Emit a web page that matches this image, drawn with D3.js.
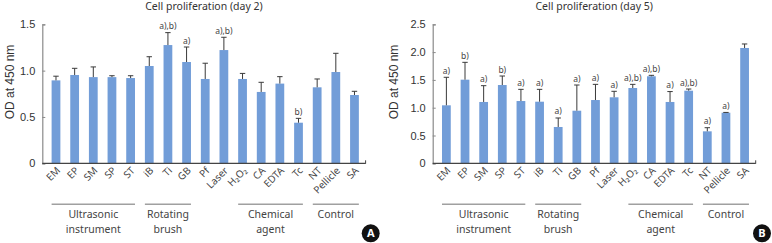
<!DOCTYPE html>
<html>
<head>
<meta charset="utf-8">
<script src="https://cdn.jsdelivr.net/npm/d3@7"></script>
<style>
    body { margin: 0; background: #fff; }
    svg { display: block; }
</style>
</head>
<body>
<div id="chart"></div>
<script>
// data
const categories = ['EM', 'EP', 'SM', 'SP', 'ST', 'iB', 'Ti', 'GB', 'Pf', 'Laser', 'H₂O₂', 'CA', 'EDTA', 'Tc', 'NT', 'Pellicle', 'SA'];

const day2Values = [0.895, 0.953, 0.93, 0.93, 0.92, 1.05, 1.276, 1.093, 0.91, 1.222, 0.91, 0.77, 0.86, 0.438, 0.82, 0.985, 0.737];
const day2Errors = [0.94, 1.025, 1.04, 0.945, 0.945, 1.15, 1.41, 1.255, 1.08, 1.36, 0.97, 0.874, 0.935, 0.485, 0.91, 1.187, 0.777];
const day2Marks = ['', '', '', '', '', '', 'a),b)', 'a)', '', 'a),b)', '', '', '', 'b)', '', '', ''];
const day2Ticks = [0, 0.5, 1.0, 1.5];

const day5Values = [1.043, 1.504, 1.103, 1.408, 1.12, 1.108, 0.653, 0.946, 1.138, 1.187, 1.354, 1.565, 1.103, 1.306, 0.575, 0.91, 2.074];
const day5Errors = [1.547, 1.816, 1.396, 1.57, 1.33, 1.33, 0.815, 1.408, 1.42, 1.295, 1.42, 1.582, 1.29, 1.336, 0.64, 0.915, 2.146];
const day5Marks = ['a)', 'b)', 'a)', 'b)', 'a)', 'a)', 'a)', 'a)', 'a)', 'a)', 'a),b)', 'a),b)', 'a)', 'a),b)', 'a)', 'a)', ''];
const day5Ticks = [0, 0.5, 1.0, 1.5, 2.0, 2.5];

const groupNames = [['Ultrasonic', 'instrument'], ['Rotating', 'brush'], ['Chemical', 'agent'], ['Control']];
const groupFirst = ['EM', 'iB', 'H₂O₂', 'NT'];
const groupLast = ['ST', 'GB', 'Tc', 'SA'];

// layout
const W = 772, H = 243;
const barColor = '#729dd8';
const plotTop = 24.3, plotBottom = 163.3;
const sans = "'Noto Sans', 'Open Sans', sans-serif";

const svg = d3.select('#chart')
    .append('svg')
    .attr('width', W)
    .attr('height', H);

function fmt(d) {
    return d === 0 ? '0' : d3.format('.1f')(d);
}

function DrawPanel(p) {
    const g = svg.append('g');

    // x scale
    const x = d3.scaleBand()
        .domain(categories)
        .range([p.left, p.right])
        .paddingInner(0.53)
        .paddingOuter(0.43)
        .align(0.58);

    // y scale
    const y = d3.scaleLinear()
        .domain([0, p.yMax])
        .range([plotBottom, plotTop]);

    // title
    g.append('text')
        .attr('x', (p.left + p.right) / 2)
        .attr('y', 10)
        .attr('text-anchor', 'middle')
        .style('font-family', sans)
        .style('font-size', '10.5px')
        .style('fill', '#333')
        .text(p.title);

    // y axis
    const yAxis = g.append('g')
        .attr('transform', 'translate(' + p.left + ',0)')
        .call(d3.axisLeft(y).tickValues(p.ticks).tickFormat(fmt).tickSize(-3).tickPadding(7));
    yAxis.select('.domain').attr('stroke', '#8a8a8a').attr('stroke-width', 1.2);
    yAxis.selectAll('.tick line').attr('stroke', '#8a8a8a');
    yAxis.selectAll('.tick text')
        .style('font-family', 'Liberation Sans')
        .style('font-size', '11px')
        .style('fill', '#333');

    // y axis title
    g.append('text')
        .attr('transform', 'translate(' + (p.left - p.titleOffset) + ',82) rotate(-90)')
        .attr('text-anchor', 'middle')
        .attr('dominant-baseline', 'middle')
        .style('font-family', 'Liberation Sans')
        .style('font-size', '12px')
        .style('fill', '#333')
        .text('OD at 450 nm');

    // bars
    g.selectAll('rect.bar')
        .data(p.values)
        .join('rect')
        .attr('class', 'bar')
        .attr('x', (d, i) => x(categories[i]))
        .attr('y', d => y(d))
        .attr('width', x.bandwidth())
        .attr('height', d => y(0) - y(d))
        .style('fill', barColor);

    // error bars
    const cx = i => x(categories[i]) + x.bandwidth() / 2;
    g.selectAll('line.stem')
        .data(p.errors)
        .join('line')
        .attr('class', 'stem')
        .attr('x1', (d, i) => cx(i))
        .attr('x2', (d, i) => cx(i))
        .attr('y1', (d, i) => y(p.values[i]))
        .attr('y2', d => y(d))
        .attr('stroke', '#3a3a3a')
        .attr('stroke-width', 1);
    g.selectAll('line.cap')
        .data(p.errors)
        .join('line')
        .attr('class', 'cap')
        .attr('x1', (d, i) => cx(i) - 2.7)
        .attr('x2', (d, i) => cx(i) + 2.7)
        .attr('y1', d => y(d))
        .attr('y2', d => y(d))
        .attr('stroke', '#3a3a3a')
        .attr('stroke-width', 1);

    // significance marks
    g.selectAll('text.mark')
        .data(p.marks)
        .join('text')
        .attr('class', 'mark')
        .attr('x', (d, i) => cx(i))
        .attr('y', (d, i) => y(p.errors[i]) - 3.5)
        .attr('text-anchor', 'middle')
        .style('font-family', sans)
        .style('font-size', '8.5px')
        .style('fill', '#444')
        .text(d => d);

    // x axis line
    g.append('line')
        .attr('x1', p.left)
        .attr('x2', p.right)
        .attr('y1', plotBottom)
        .attr('y2', plotBottom)
        .attr('stroke', '#444')
        .attr('stroke-width', 1.2);
    g.append('line')
        .attr('x1', p.right)
        .attr('x2', p.right)
        .attr('y1', plotBottom - 3)
        .attr('y2', plotBottom + 0.5)
        .attr('stroke', '#444');

    // x tick labels, rotated
    g.selectAll('text.xlab')
        .data(categories)
        .join('text')
        .attr('class', 'xlab')
        .attr('transform', d => 'translate(' + (x(d) + x.bandwidth() / 2 + 3) + ',' + (plotBottom + 6) + ') rotate(-45)')
        .attr('text-anchor', 'end')
        .attr('dominant-baseline', 'middle')
        .style('font-family', sans)
        .style('font-size', '10px')
        .style('fill', '#444')
        .text(d => d);

    // group lines and labels
    groupNames.forEach((name, i) => {
        const x1 = x(groupFirst[i]);
        const x2 = x(groupLast[i]) + x.bandwidth();
        g.append('line')
            .attr('x1', x1)
            .attr('x2', x2)
            .attr('y1', 204.3)
            .attr('y2', 204.3)
            .attr('stroke', '#a0a0a0')
            .attr('stroke-width', 1.6);
        name.forEach((line, j) => {
            g.append('text')
                .attr('x', (x1 + x2) / 2)
                .attr('y', 218 + j * 15)
                .attr('text-anchor', 'middle')
                .style('font-family', sans)
                .style('font-size', '10.5px')
                .style('fill', '#444')
                .text(line);
        });
    });

    // panel badge
    g.append('circle')
        .attr('cx', p.badgeX)
        .attr('cy', 233.3)
        .attr('r', 9)
        .style('fill', '#111');
    g.append('text')
        .attr('x', p.badgeX)
        .attr('y', 233.8)
        .attr('text-anchor', 'middle')
        .attr('dominant-baseline', 'middle')
        .style('font-family', sans)
        .style('font-weight', 'bold')
        .style('font-size', '11px')
        .style('fill', '#fff')
        .text(p.badge);
}

DrawPanel({
    title: 'Cell proliferation (day 2)',
    values: day2Values, errors: day2Errors, marks: day2Marks, ticks: day2Ticks,
    yMax: 1.5, left: 42.3, right: 365.6, titleOffset: 31, badge: 'A', badgeX: 370.7
});

DrawPanel({
    title: 'Cell proliferation (day 5)',
    values: day5Values, errors: day5Errors, marks: day5Marks, ticks: day5Ticks,
    yMax: 2.5, left: 432.7, right: 755.7, titleOffset: 38, badge: 'B', badgeX: 762
});
</script>
</body>
</html>
